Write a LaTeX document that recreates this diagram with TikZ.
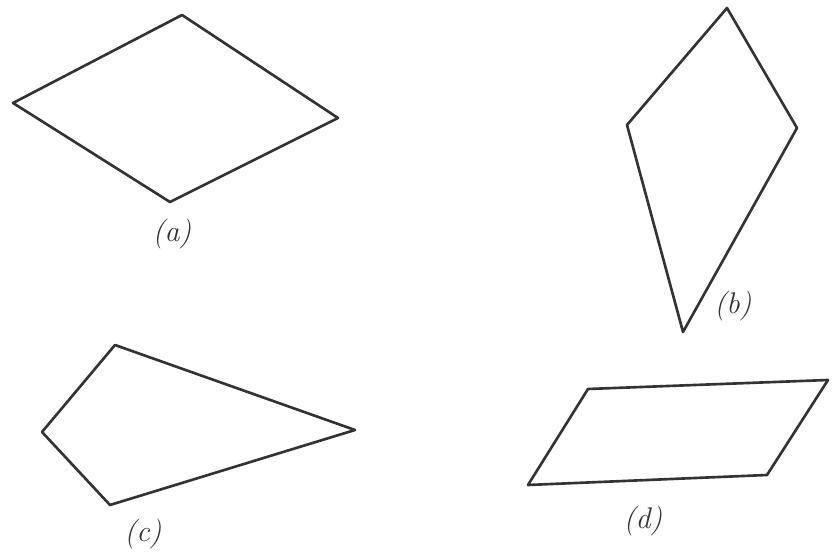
\documentclass[tikz,border=0pt]{standalone}
\usepackage{tikz}
\usetikzlibrary{positioning}

\begin{document}
\begin{tikzpicture}[
    x=0.02cm, y=-0.02cm,
    quad/.style={draw=black!80, line width=1.5pt, line join=round},
    tag/.style={font=\fontsize{17}{17}\selectfont\itshape, text=black!80}
]
\useasboundingbox (0,0) rectangle (832,553);

% (a) rhombus
\coordinate (at) at (182,15);
\coordinate (ar) at (338,118);
\coordinate (ab) at (170,202);
\coordinate (al) at (13,103);
\draw[quad] (at) -- (ar) -- (ab) -- (al) -- cycle;
\node[tag] (la) at (172,234) {(a)};

% (b) kite
\coordinate (bt) at (727,8);
\coordinate (br) at (797,128);
\coordinate (bb) at (683,332);
\coordinate (bl) at (627,125);
\draw[quad] (bt) -- (br) -- (bb) -- (bl) -- cycle;
\node[tag] (lb) at (733,306) {(b)};

% (c) quadrilateral
\coordinate (ct) at (115,345);
\coordinate (cr) at (355,430);
\coordinate (cb) at (110,505);
\coordinate (cl) at (42,432);
\draw[quad] (ct) -- (cr) -- (cb) -- (cl) -- cycle;
\node[tag] (lc) at (143,534) {(c)};

% (d) parallelogram
\coordinate (dtl) at (588,389);
\coordinate (dtr) at (828,380);
\coordinate (dbr) at (767,475);
\coordinate (dbl) at (528,485);
\draw[quad] (dtl) -- (dtr) -- (dbr) -- (dbl) -- cycle;
\node[tag] (ld) at (643,521) {(d)};

\end{tikzpicture}
\end{document}
